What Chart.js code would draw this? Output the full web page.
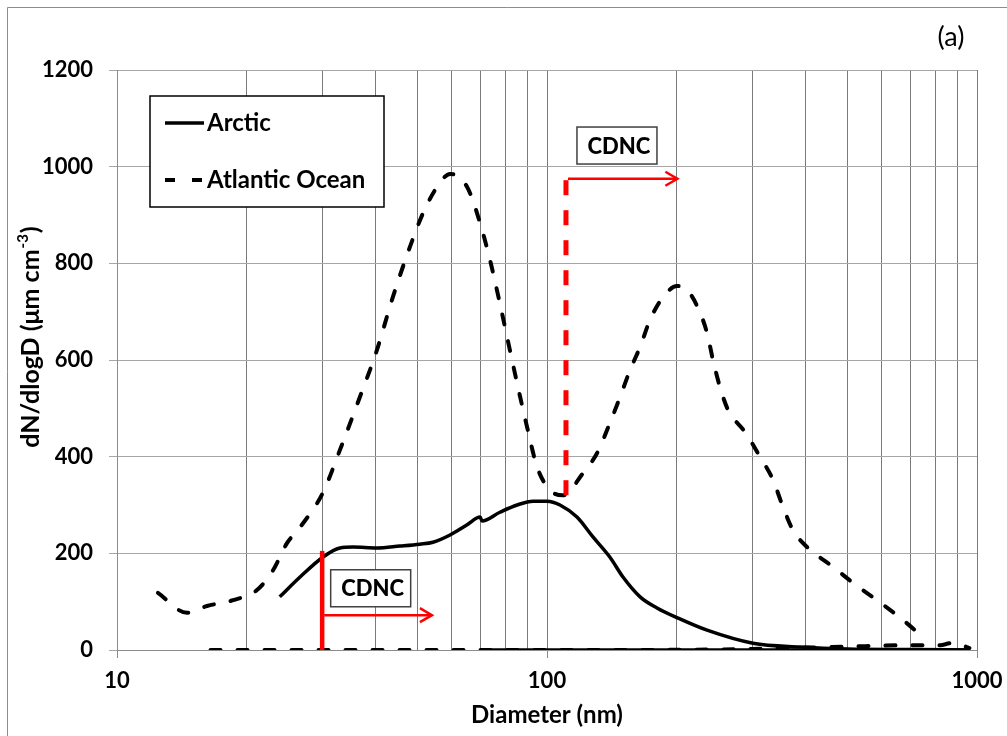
<!DOCTYPE html>
<html>
<head>
<meta charset="utf-8">
<script src="https://cdn.jsdelivr.net/npm/chart.js@4.4.1/dist/chart.umd.min.js"></script>
<style>
  html, body { margin: 0; padding: 0; background: #fff; }
  canvas { display: block; }
</style>
</head>
<body>
<canvas id="sizeChart" width="1007" height="736"></canvas>
<script>
// Arctic size distribution (solid)
const arcticD = [23.9, 26.65, 30.1, 33.0, 35.4, 40.2, 45.5, 50.6, 54.3, 59.5, 65.2, 69.9, 70.6, 77.7, 85.2, 92.8, 100, 107.2, 117.4, 127.9, 140.1, 150.2, 164.6, 180.2, 201.7, 235.6, 301.3, 387.6, 500, 700, 960];
const arcticN = [110, 151, 192, 211, 213, 211, 215, 219, 223, 238, 259, 275, 267, 285, 300, 308, 308, 300, 275, 234, 192, 151, 110, 87, 66, 41, 14, 6, 2, 1, 0];

// Atlantic Ocean size distribution (dashed)
const atlanticD = [12.45, 14.55, 16.19, 18.61, 21.16, 23.06, 24.85, 26.65, 30.1, 33.0, 36.7, 40.2, 43.8, 48.0, 51.5, 55.5, 59.5, 65.2, 69.9, 73.7, 77.7, 82.0, 85.2, 89.9, 94.8, 101.6, 108.9, 121.3, 130.7, 140.1, 147.8, 156.0, 164.6, 173.6, 186.1, 200.6, 211.6, 223.3, 235.6, 243.2, 252.5, 263.6, 288.7, 312.8, 335.4, 353.8, 373.3, 402.5, 462.6, 514.7, 585.4, 651.6, 725.4, 748.6];
const atlanticN = [118, 77, 91, 103, 124, 165, 221, 254, 325, 414, 523, 620, 730, 834, 904, 958, 985, 958, 883, 807, 717, 620, 552, 461, 379, 331, 320, 366, 407, 470, 523, 579, 627, 683, 730, 753, 745, 712, 656, 600, 544, 497, 451, 400, 352, 296, 248, 213, 172, 139, 103, 72, 37, 25];

// second-instrument traces lying on the baseline
const arcticCoarseD = [70.6, 960];
const arcticCoarseN = [0, 0];
const atlanticCoarseD = [16.5, 100, 250, 400, 550, 700, 820, 870, 920, 960];
const atlanticCoarseN = [0, 0, 1, 5, 8, 10, 10, 14, 10, 4];

// axes
const xGridD = [10, 20, 30, 40, 50, 60, 70, 80, 90, 100, 200, 300, 400, 500, 600, 700, 800, 900, 1000];
const xLabelD = [10, 100, 1000];
const yTicks = [0, 200, 400, 600, 800, 1000, 1200];

// CDNC cut-off annotations
const cutoffD = [30, 110.7];
const cutoffFromN = [0, 300];
const cutoffToN = [205, 972];
const arrowEndD = [54, 201];
const arrowN = [72, 975];
const boxLeftD = [31.4, 117.4];
const boxTopN = [166, 1082];
const boxText = ["CDNC", "CDNC"];

const FONT = "Lato, 'Open Sans', sans-serif";

function toXY(ds, ns) {
  return ds.map((d, i) => ({ x: d, y: ns[i] }));
}

const decorPlugin = {
  id: "decor",
  afterDraw(chart) {
    const ctx = chart.ctx;
    const xs = chart.scales.x, ys = chart.scales.y;
    const area = chart.chartArea;
    ctx.save();

    // CDNC cut-offs and arrows
    cutoffD.forEach((d, i) => {
      const px = xs.getPixelForValue(d);
      ctx.strokeStyle = "#ff0000";
      ctx.lineWidth = i === 0 ? 4.5 : 5;
      ctx.setLineDash(i === 0 ? [] : [15, 15]);
      ctx.lineCap = "butt";
      ctx.beginPath();
      ctx.moveTo(px, ys.getPixelForValue(cutoffToN[i]));
      ctx.lineTo(px, ys.getPixelForValue(cutoffFromN[i]));
      ctx.stroke();
      ctx.setLineDash([]);

      const ay = ys.getPixelForValue(arrowN[i]);
      const ax2 = xs.getPixelForValue(arrowEndD[i]);
      ctx.lineWidth = 2.5;
      ctx.beginPath();
      ctx.moveTo(px + 2, ay);
      ctx.lineTo(ax2, ay);
      ctx.stroke();
      ctx.beginPath();
      ctx.moveTo(ax2 - 12, ay - 7);
      ctx.lineTo(ax2, ay);
      ctx.lineTo(ax2 - 12, ay + 7);
      ctx.stroke();

      const bx = xs.getPixelForValue(boxLeftD[i]);
      const by = ys.getPixelForValue(boxTopN[i]);
      const bw = 80, bh = 37;
      ctx.fillStyle = "#fff";
      ctx.fillRect(bx, by, bw, bh);
      ctx.strokeStyle = "#404040";
      ctx.lineWidth = 1.5;
      ctx.strokeRect(bx, by, bw, bh);
      ctx.fillStyle = "#000";
      ctx.font = "900 22px " + FONT;
      ctx.textAlign = "center";
      ctx.textBaseline = "middle";
      ctx.fillText(boxText[i], bx + bw / 2 + 2, by + bh / 2 + 1);
    });

    // legend box
    const lx = area.left + 33, ly = area.top + 26, lw = 234, lh = 111;
    ctx.fillStyle = "#fff";
    ctx.fillRect(lx, ly, lw, lh);
    ctx.strokeStyle = "#000";
    ctx.lineWidth = 1.5;
    ctx.strokeRect(lx, ly, lw, lh);
    const entries = chart.data.datasets.filter(d => d.legendOrder !== undefined)
      .sort((a, b) => a.legendOrder - b.legendOrder);
    entries.forEach((ds, i) => {
      const ey = ly + 27 + i * 57;
      ctx.strokeStyle = ds.borderColor;
      ctx.lineWidth = ds.borderWidth;
      ctx.setLineDash(ds.borderDash || []);
      ctx.beginPath();
      ctx.moveTo(lx + 15, ey);
      ctx.lineTo(lx + 54, ey);
      ctx.stroke();
      ctx.setLineDash([]);
      ctx.fillStyle = "#000";
      ctx.font = "bold 24px " + FONT;
      ctx.textAlign = "left";
      ctx.textBaseline = "middle";
      ctx.fillText(ds.label, lx + 57, ey);
    });

    // y axis title with superscript
    ctx.save();
    ctx.translate(31, 337);
    ctx.rotate(-Math.PI / 2);
    ctx.fillStyle = "#000";
    ctx.textBaseline = "middle";
    ctx.textAlign = "left";
    const main = "dN/dlogD (μm cm";
    const sup = "-3";
    const close = ")";
    ctx.font = "bold 25px " + FONT;
    const wMain = ctx.measureText(main).width;
    const wClose = ctx.measureText(close).width;
    ctx.font = "bold 15px " + FONT;
    const wSup = ctx.measureText(sup).width;
    let tx = -(wMain + wSup + wClose + 2) / 2;
    ctx.font = "bold 25px " + FONT;
    ctx.fillText(main, tx, 0);
    tx += wMain + 1;
    ctx.font = "bold 15px " + FONT;
    ctx.fillText(sup, tx, -8);
    tx += wSup + 1;
    ctx.font = "bold 25px " + FONT;
    ctx.fillText(close, tx, 0);
    ctx.restore();

    // panel letter
    ctx.fillStyle = "#000";
    ctx.font = "27px " + FONT;
    ctx.textAlign = "center";
    ctx.textBaseline = "middle";
    ctx.fillText("(a)", 951, 37);

    // outer frame
    ctx.strokeStyle = "#8c8c8c";
    ctx.lineWidth = 1;
    ctx.beginPath();
    ctx.moveTo(7.5, 736);
    ctx.lineTo(7.5, 7.5);
    ctx.lineTo(1007, 7.5);
    ctx.stroke();
    ctx.restore();
  }
};

const ctx = document.getElementById("sizeChart").getContext("2d");
new Chart(ctx, {
  type: "line",
  data: {
    datasets: [
      {
        label: "Atlantic Ocean coarse",
        data: toXY(atlanticCoarseD, atlanticCoarseN),
        borderColor: "#000",
        borderWidth: 4,
        borderDash: [10, 17],
        borderCapStyle: "round",
        cubicInterpolationMode: "monotone",
        pointRadius: 0
      },
      {
        label: "Arctic coarse",
        data: toXY(arcticCoarseD, arcticCoarseN),
        borderColor: "#000",
        borderWidth: 3.5,
        pointRadius: 0
      },
      {
        label: "Atlantic Ocean",
        legendOrder: 1,
        data: toXY(atlanticD, atlanticN),
        borderColor: "#000",
        borderWidth: 4,
        borderDash: [10, 17],
        borderCapStyle: "round",
        cubicInterpolationMode: "monotone",
        pointRadius: 0
      },
      {
        label: "Arctic",
        legendOrder: 0,
        data: toXY(arcticD, arcticN),
        borderColor: "#000",
        borderWidth: 3.5,
        cubicInterpolationMode: "monotone",
        pointRadius: 0
      }
    ]
  },
  options: {
    responsive: false,
    animation: false,
    devicePixelRatio: 1,
    layout: { autoPadding: false, padding: { left: 7, top: 70, right: 30, bottom: 0 } },
    plugins: {
      legend: { display: false },
      tooltip: { enabled: false }
    },
    scales: {
      x: {
        type: "logarithmic",
        min: 10,
        max: 1000,
        afterBuildTicks: s => { s.ticks = xGridD.map(v => ({ value: v })); },
        afterFit: s => { s.height = 86; s.paddingLeft = 0; s.paddingRight = 0; },
        border: { color: "#8c8c8c" },
        grid: {
          color: "#7a7a7a",
          lineWidth: 1,
          tickLength: 8,
          tickColor: c => xLabelD.includes(c.tick && c.tick.value) ? "#8c8c8c" : "rgba(0,0,0,0)"
        },
        ticks: {
          autoSkip: false,
          maxRotation: 0,
          padding: 10,
          color: "#000",
          font: { family: FONT, size: 22, weight: "bold" },
          callback: v => xLabelD.includes(v) ? String(v) : ""
        },
        title: {
          display: true,
          text: "Diameter (nm)",
          color: "#000",
          font: { family: FONT, size: 24, weight: "bold" },
          padding: { top: 0, bottom: 6 }
        }
      },
      y: {
        min: 0,
        max: 1200,
        afterBuildTicks: s => { s.ticks = yTicks.map(v => ({ value: v })); },
        afterFit: s => { s.width = 110; s.paddingTop = 0; s.paddingBottom = 0; },
        border: { color: "#8c8c8c" },
        grid: { color: "#a6a6a6", lineWidth: 1, tickLength: 8, tickColor: "#a6a6a6" },
        ticks: {
          padding: 16,
          color: "#000",
          font: { family: FONT, size: 22, weight: "bold" },
          callback: v => String(v)
        },
        title: { display: false }
      }
    }
  },
  plugins: [decorPlugin]
});
</script>
</body>
</html>
